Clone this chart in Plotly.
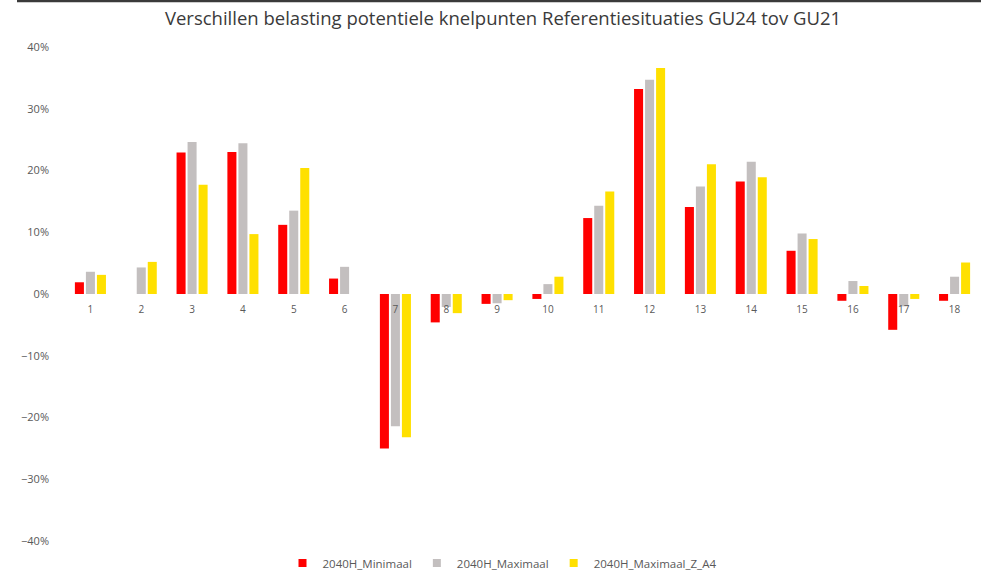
import plotly.graph_objects as go

categories = [str(i) for i in range(1, 19)]
minimaal = [0.019, 0.0, 0.229, 0.230, 0.112, 0.025, -0.250, -0.046, -0.016, -0.008,
            0.123, 0.332, 0.141, 0.182, 0.070, -0.011, -0.058, -0.011]
maximaal = [0.036, 0.043, 0.246, 0.244, 0.135, 0.044, -0.214, -0.021, -0.015, 0.016,
            0.143, 0.347, 0.174, 0.214, 0.098, 0.021, -0.020, 0.028]
maximaal_z_a4 = [0.031, 0.052, 0.177, 0.097, 0.204, 0.0, -0.232, -0.031, -0.010, 0.028,
                 0.166, 0.366, 0.210, 0.189, 0.089, 0.013, -0.008, 0.051]
series_names = ["2040H_Minimaal", "2040H_Maximaal", "2040H_Maximaal_Z_A4"]
colors = ["#FF0000", "#C3BFBF", "#FFE000"]
y_ticks = [-0.4, -0.3, -0.2, -0.1, 0.0, 0.1, 0.2, 0.3, 0.4]

W, H = 981, 573
ML, MR, MT, MB = 65, 1, 47, 32
PW, PH = W - ML - MR, H - MT - MB

font_family = "Open Sans, Liberation Sans, sans-serif"

fig = go.Figure()
for name, vals, col in zip(series_names, [minimaal, maximaal, maximaal_z_a4], colors):
    fig.add_trace(go.Bar(x=categories, y=vals, name=name, marker_color=col,
                         marker_line_width=0, showlegend=False))
# legend entries with small square markers
for name, col in zip(series_names, colors):
    fig.add_trace(go.Scatter(x=[None], y=[None], mode="markers", name=name,
                             marker=dict(symbol="square", size=8, color=col)))

fig.update_layout(
    width=W, height=H,
    margin=dict(l=ML, r=MR, t=MT, b=MB, autoexpand=False),
    paper_bgcolor="white", plot_bgcolor="white",
    barmode="group", bargap=0.35, bargroupgap=0.18,
    title=dict(text="Verschillen belasting potentiele knelpunten Referentiesituaties GU24 tov GU21",
               x=503 / W, xanchor="center", y=1 - 19 / H, yanchor="middle",
               font=dict(family=font_family, size=18.5, color="#3a3a3a")),
    font=dict(family=font_family, color="#595959"),
    xaxis=dict(anchor="free", position=0.5, showgrid=False, showline=False,
               ticks="", tickfont=dict(size=10, color="#595959"), ticklabelstandoff=8),
    yaxis=dict(range=[-0.4, 0.4], tickvals=y_ticks, tickformat=".0%",
               showgrid=False, zeroline=False, showline=False,
               tickfont=dict(size=11, color="#595959"), ticklabelstandoff=15),
    legend=dict(orientation="h", x=(502 - ML) / PW, xanchor="center",
                y=-(563 - (H - MB)) / PH, yanchor="middle",
                font=dict(size=11.5, color="#595959"), itemwidth=30,
                traceorder="normal", tracegroupgap=0),
    showlegend=True,
)

# thin dark strip at the very top of the image
fig.add_shape(type="line", xref="paper", yref="paper",
              x0=(17 - ML) / PW, x1=(W - ML) / PW,
              y0=(H - MB - 1) / PH, y1=(H - MB - 1) / PH,
              line=dict(color="#3a3a3a", width=2.5))

fig.write_html("out.html", config={"displayModeBar": False},
               post_script="document.body.style.margin='0';")
